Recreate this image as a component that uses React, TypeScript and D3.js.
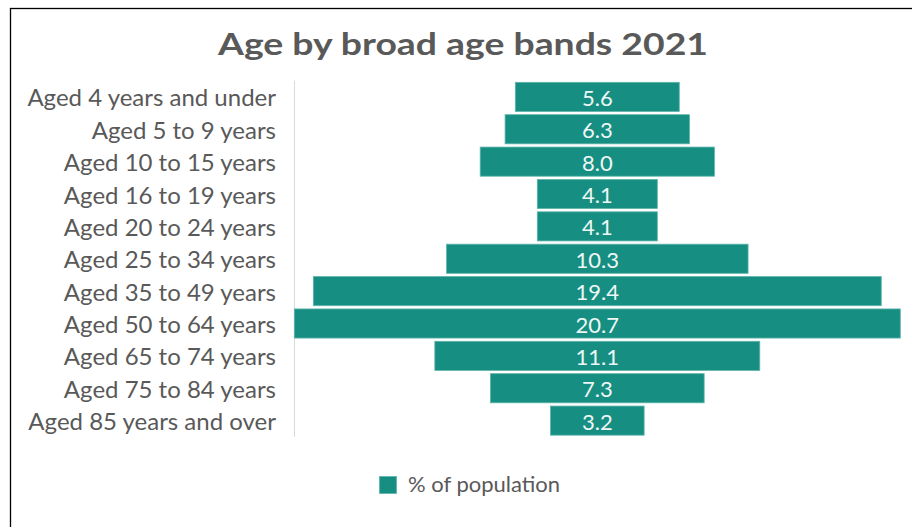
import React from "react";
import * as d3 from "d3";

const categories = [
  "Aged 4 years and under",
  "Aged 5 to 9 years",
  "Aged 10 to 15 years",
  "Aged 16 to 19 years",
  "Aged 20 to 24 years",
  "Aged 25 to 34 years",
  "Aged 35 to 49 years",
  "Aged 50 to 64 years",
  "Aged 65 to 74 years",
  "Aged 75 to 84 years",
  "Aged 85 years and over",
];
const values = [5.6, 6.3, 8.0, 4.1, 4.1, 10.3, 19.4, 20.7, 11.1, 7.3, 3.2];
const title = "Age by broad age bands 2021";
const seriesName = "% of population";

const W = 912;
const H = 527;
const FONT = "Lato, 'Open Sans', sans-serif";
const TEXT = "#595959";
const FILL = "#168f82";

export default function App() {
  const center = 597.3;
  const maxV = d3.max(values) as number;
  const w = d3.scaleLinear().domain([0, maxV]).range([0, 606]);
  const y = d3
    .scaleBand<string>()
    .domain(categories)
    .range([80.7, 436.8])
    .paddingInner(0.1)
    .paddingOuter(0.05);

  return (
    <svg
      width={W}
      height={H}
      style={{ position: "absolute", left: 0, top: 0, background: "#fff" }}
      fontFamily={FONT}
    >
      <rect x={0} y={0} width={W} height={H} fill="#fff" />
      <rect x={10.5} y={8.5} width={W + 10} height={H + 10} fill="none" stroke="#000" strokeWidth={1.3} />
      <text
        x={218}
        y={54.5}
        fontSize={31}
        fontWeight={700}
        fill={TEXT}
        textLength={490}
        lengthAdjust="spacingAndGlyphs"
      >
        {title}
      </text>
      <line x1={294.5} x2={294.5} y1={y.range()[0]} y2={y.range()[1]} stroke="#d9d9d9" strokeWidth={1} />
      {categories.map((c, i) => {
        const bw = w(values[i]);
        const by = y(c) as number;
        const cy = by + y.bandwidth() / 2;
        return (
          <g key={c}>
            <text x={276} y={cy} dy="0.4em" textAnchor="end" fontSize={24} fill={TEXT}>
              {c}
            </text>
            <rect
              x={center - bw / 2}
              y={by}
              width={bw}
              height={y.bandwidth()}
              fill={FILL}
              stroke="#5fb5ab"
              strokeWidth={0.8}
            />
            <text x={center} y={cy} dy="0.41em" textAnchor="middle" fontSize={22} fill="#eef7f6">
              {values[i].toFixed(1)}
            </text>
          </g>
        );
      })}
      <rect x={379.5} y={476.5} width={17} height={17} fill={FILL} stroke="#5fb5ab" strokeWidth={0.8} />
      <text x={408} y={492} fontSize={22} fill={TEXT}>
        {seriesName}
      </text>
    </svg>
  );
}
